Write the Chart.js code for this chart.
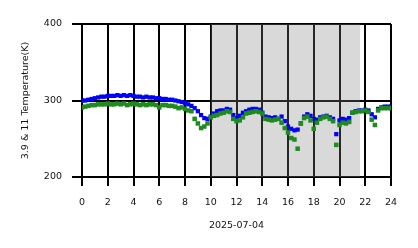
<!DOCTYPE html>
<html>
<head>
<meta charset="utf-8">
<script src="https://cdn.jsdelivr.net/npm/chart.js@4.4.0/dist/chart.umd.min.js"></script>
<style>
  html, body { margin: 0; padding: 0; background: #fff; }
  #wrap { width: 418px; height: 248px; }
</style>
</head>
<body>
<div id="wrap"><canvas id="chart" width="418" height="248"></canvas></div>
<script>
// hours of day (sample times)
const hours = [
  0, 0.25, 0.5, 0.75, 1, 1.25, 1.5, 1.75, 2, 2.25, 2.5, 2.75,
  3, 3.25, 3.5, 3.75, 4, 4.25, 4.5, 4.75, 5, 5.25, 5.5, 5.75,
  6, 6.25, 6.5, 6.75, 7, 7.25, 7.5, 7.75, 8, 8.25, 8.5, 8.75,
  9, 9.25, 9.5, 9.75, 10, 10.25, 10.5, 10.75, 11, 11.25, 11.5, 11.75,
  12, 12.25, 12.5, 12.75, 13, 13.25, 13.5, 13.75, 14, 14.25, 14.5, 14.75,
  15, 15.25, 15.5, 15.75, 16, 16.25, 16.5, 16.75, 17, 17.25, 17.5, 17.75,
  18, 18.25, 18.5, 18.75, 19, 19.25, 19.5, 19.75, 20, 20.25, 20.5, 20.75,
  21, 21.25, 21.5, 21.75, 22, 22.25, 22.5, 22.75, 23, 23.25, 23.5, 23.75, 24
];

// 3.9 um brightness temperature (K)
const temp39 = [
  300, 300, 301, 302, 303, 304, 305, 305, 306, 306, 306, 307,
  306, 307, 306, 307, 306, 305, 305, 304, 305, 304, 304, 303,
  303, 302, 302, 301, 301, 300, 299, 298, 297, 295, 293, 290,
  286, 281, 277, 276, 279, 283, 286, 287, 287, 289, 288, 281,
  277, 280, 284, 286, 288, 289, 289, 288, 284, 279, 278, 277,
  278, 276, 279, 273, 266, 263, 261, 262, 270, 279, 282, 280,
  276, 275, 278, 279, 280, 278, 276, 256, 274, 276, 275, 277,
  284, 286, 287, 287, 288, 287, 282, 278, 289, 291, 292, 292, 292
];

// 11 um brightness temperature (K)
const temp11 = [
  291, 292, 293, 294, 294, 295, 295, 295, 296, 295, 295, 296,
  295, 296, 294, 295, 296, 295, 294, 295, 294, 295, 295, 294,
  291, 294, 294, 293, 293, 292, 290, 291, 289, 287, 286, 276,
  270, 264, 266, 270, 278, 280, 281, 283, 284, 286, 285, 276,
  273, 274, 278, 283, 284, 285, 286, 285, 283, 276, 275, 274,
  275, 276, 271, 264, 258, 251, 249, 237, 270, 277, 279, 274,
  263, 271, 276, 278, 279, 276, 273, 242, 268, 271, 270, 272,
  284, 285, 286, 286, 287, 285, 275, 268, 287, 290, 290, 290, 290
];

const yTicks = [200, 300, 400];
const nightSpan = [10, 21.6];

const toPts = vals => vals.map((v, i) => ({ x: hours[i], y: v }));

// grey night band behind the points
const shade = {
  id: 'shade',
  beforeDatasetsDraw(chart) {
    const { ctx, chartArea, scales } = chart;
    const x0 = scales.x.getPixelForValue(nightSpan[0]);
    const x1 = scales.x.getPixelForValue(nightSpan[1]);
    ctx.save();
    ctx.fillStyle = 'rgba(128,128,128,0.3)';
    ctx.fillRect(x0, chartArea.top, x1 - x0, chartArea.bottom - chartArea.top);
    ctx.restore();
  }
};

const font = { family: 'DejaVu Sans', size: 9.5 };

new Chart(document.getElementById('chart'), {
  type: 'scatter',
  data: {
    datasets: [
      { label: '11', data: toPts(temp11), pointStyle: 'rect', pointRadius: 3.2,
        backgroundColor: '#1f8a1f', borderWidth: 0 },
      { label: '3.9', data: toPts(temp39), pointStyle: 'rect', pointRadius: 3,
        backgroundColor: '#0000ff', borderWidth: 0 }
    ]
  },
  options: {
    responsive: false,
    animation: false,
    layout: { padding: { top: 24, right: 27, bottom: 0, left: 0 } },
    plugins: { legend: { display: false }, tooltip: { enabled: false } },
    scales: {
      x: {
        type: 'linear', min: 0, max: 24, z: 1,
        afterFit: s => { s.height = 71; },
        border: { display: false },
        grid: { color: '#000', lineWidth: 2, tickLength: 9, tickColor: '#000', tickWidth: 2 },
        ticks: { stepSize: 2, color: '#111', font, padding: 11, maxRotation: 0 },
        title: { display: true, text: '2025-07-04', color: '#111', font, padding: { top: 0, bottom: 17 } }
      },
      y: {
        min: 200, max: 400, z: 1,
        afterFit: s => { s.width = 82; },
        afterBuildTicks: s => { s.ticks = yTicks.map(v => ({ value: v })); },
        border: { display: false },
        grid: { color: '#000', lineWidth: 2, tickLength: 10, tickColor: '#000', tickWidth: 2 },
        ticks: { color: '#111', font, padding: 10 },
        title: { display: true, text: '3.9 & 11 Temperature(K)', color: '#111', font, padding: { top: 20, bottom: 0 } }
      }
    }
  },
  plugins: [shade]
});
</script>
</body>
</html>
